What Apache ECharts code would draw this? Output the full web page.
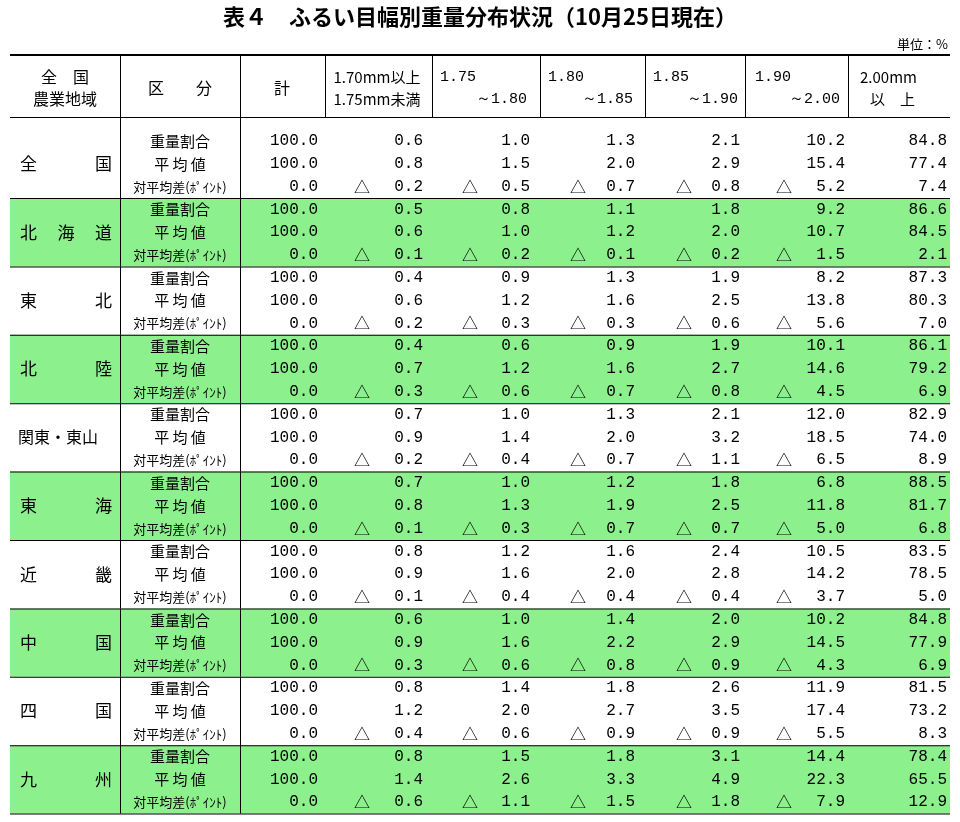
<!DOCTYPE html>
<html><head><meta charset="utf-8">
<script src="https://cdn.jsdelivr.net/npm/echarts@6/dist/echarts.min.js"></script>
<style>html,body{margin:0;padding:0;background:#fff}#c{width:960px;height:822px}</style>
</head><body><div id="c"></div>
<script>
const title='表４　ふるい目幅別重量分布状況（10月25日現在）';
const unit='単位：%';
const regions=['全国','北海道','東北','北陸','関東・東山','東海','近畿','中国','四国','九州'];
const rowLabels=['重量割合','平 均 値','対平均差(ﾎﾟｲﾝﾄ)'];
const share=[
[100.0,0.6,1.0,1.3,2.1,10.2,84.8],[100.0,0.5,0.8,1.1,1.8,9.2,86.6],[100.0,0.4,0.9,1.3,1.9,8.2,87.3],
[100.0,0.4,0.6,0.9,1.9,10.1,86.1],[100.0,0.7,1.0,1.3,2.1,12.0,82.9],[100.0,0.7,1.0,1.2,1.8,6.8,88.5],
[100.0,0.8,1.2,1.6,2.4,10.5,83.5],[100.0,0.6,1.0,1.4,2.0,10.2,84.8],[100.0,0.8,1.4,1.8,2.6,11.9,81.5],
[100.0,0.8,1.5,1.8,3.1,14.4,78.4]];
const avg=[
[100.0,0.8,1.5,2.0,2.9,15.4,77.4],[100.0,0.6,1.0,1.2,2.0,10.7,84.5],[100.0,0.6,1.2,1.6,2.5,13.8,80.3],
[100.0,0.7,1.2,1.6,2.7,14.6,79.2],[100.0,0.9,1.4,2.0,3.2,18.5,74.0],[100.0,0.8,1.3,1.9,2.5,11.8,81.7],
[100.0,0.9,1.6,2.0,2.8,14.2,78.5],[100.0,0.9,1.6,2.2,2.9,14.5,77.9],[100.0,1.2,2.0,2.7,3.5,17.4,73.2],
[100.0,1.4,2.6,3.3,4.9,22.3,65.5]];
const diff=[
[0.0,-0.2,-0.5,-0.7,-0.8,-5.2,7.4],[0.0,-0.1,-0.2,-0.1,-0.2,-1.5,2.1],[0.0,-0.2,-0.3,-0.3,-0.6,-5.6,7.0],
[0.0,-0.3,-0.6,-0.7,-0.8,-4.5,6.9],[0.0,-0.2,-0.4,-0.7,-1.1,-6.5,8.9],[0.0,-0.1,-0.3,-0.7,-0.7,-5.0,6.8],
[0.0,-0.1,-0.4,-0.4,-0.4,-3.7,5.0],[0.0,-0.3,-0.6,-0.8,-0.9,-4.3,6.9],[0.0,-0.4,-0.6,-0.9,-0.9,-5.5,8.3],
[0.0,-0.6,-1.1,-1.5,-1.8,-7.9,12.9]];
const headTop=['全　国','区　　分','計','1.70mm以上','1.75','1.80','1.85','1.90','2.00mm'];
const headBot=['農業地域','','','1.75mm未満','～1.80','～1.85','～1.90','～2.00','以　上'];

// layout
const colRight=[318,423,530,635,740,845,947];
const triX=[null,362,470,578,684,784,null];
const vLines=[120,240,325,432,540,645,745,848];
const JP='"Noto Sans CJK JP", sans-serif';
const NUM='"Liberation Mono", monospace';

const cells=[];
[share,avg,diff].forEach((arr,k)=>arr.forEach((r,g)=>r.forEach((v,c)=>cells.push([c,g*3+k,v]))));
const bands=regions.map((_,g)=>[g]).filter(d=>d[0]%2===1);
const bounds=regions.map((_,g)=>[g]);

const chart=echarts.init(document.getElementById('c'));
const graphics=[
 {type:'text',left:'center',top:6,style:{text:title,font:'bold 22px '+JP,fill:'#000'}},
 {type:'text',right:12,top:38,style:{text:unit,font:'13px '+JP,fill:'#000'}},
 {type:'rect',shape:{x:10,y:54,width:940,height:2},style:{fill:'#000'}},
 {type:'rect',shape:{x:10,y:117,width:940,height:1},style:{fill:'#000'}},
];
vLines.forEach(x=>graphics.push({type:'rect',shape:{x:x,y:55,width:1,height:63},style:{fill:'#000'}}));
const hx=[65,180,282,377,440,548,653,755,860];
headTop.forEach((t,i)=>{
 if(i===2||i===1){graphics.push({type:'text',x:hx[i],y:88,style:{text:t,font:'16px '+JP,align:'center',verticalAlign:'middle',fill:'#000'}});return;}
 const ax= (i===3||i===0)?'center':'left';
 graphics.push({type:'text',x:i===3?377:hx[i],y:77,style:{text:t,font:(i===0?'16px ':'15px ')+(i>=4&&i<8?NUM:JP),align:ax,verticalAlign:'middle',fill:'#000'}});
 const b=headBot[i]; if(!b)return;
 let bx=hx[i],al='left';
 if(i===0)al='center'; else if(i===3){bx=377;al='center';} else if(i<8){bx=[0,0,0,0,527,633,738,840][i];al='right';} else bx=870;
 graphics.push({type:'text',x:bx,y:99,style:{text:b,font:(i===0?'16px ':'15px ')+(i>=4&&i<8?NUM:JP),align:al,verticalAlign:'middle',fill:'#000'}});
});

function yOf(api,r){return api.coord([0,r])[1];}
chart.setOption({
 animation:false,
 graphic:graphics,
 grid:{left:0,right:0,top:0,bottom:0},
 xAxis:{type:'value',min:0,max:960,show:false},
 yAxis:{type:'value',inverse:true,min:-141/22.8,max:(822-141)/22.8,show:false},
 series:[
  {type:'custom',data:bands,renderItem:(p,api)=>{const g=api.value(0);const y0=yOf(api,g*3-0.5),y1=yOf(api,g*3+2.5);
    return {type:'rect',shape:{x:10,y:y0,width:940,height:y1-y0},style:{fill:'#8cf08c'}};}},
  {type:'custom',data:bounds,renderItem:(p,api)=>{const g=api.value(0);const y0=g===0?118:yOf(api,g*3-0.5),y1=yOf(api,g*3+2.5);
    const ch=[{type:'rect',shape:{x:10,y:y1,width:940,height:1},style:{fill:'#000'}},
      {type:'rect',shape:{x:120,y:y0,width:1,height:y1-y0},style:{fill:'#000'}},
      {type:'rect',shape:{x:240,y:y0,width:1,height:y1-y0},style:{fill:'#000'}}];
    const yc=yOf(api,g*3+1);
    if(regions[g].length>=5){
      ch.push({type:'text',x:18,y:yc,style:{text:regions[g],font:'16px '+JP,align:'left',verticalAlign:'middle',fill:'#000'}});
    } else {
      const name=regions[g].split('');const n=name.length;
      name.forEach((c,i)=>{const x=20+92*i/(n-1);
        ch.push({type:'text',x:x,y:yc,style:{text:c,font:'17px '+JP,align:i===0?'left':(i===n-1?'right':'center'),verticalAlign:'middle',fill:'#000'}});});
    }
    rowLabels.forEach((l,k)=>ch.push({type:'text',x:180,y:yOf(api,g*3+k),style:{text:l,font:(k===2?'13px ':'15px ')+JP,align:'center',verticalAlign:'middle',fill:'#000'}}));
    return {type:'group',children:ch};}},
  {type:'custom',data:cells,renderItem:(p,api)=>{const c=api.value(0),r=api.value(1),v=api.value(2);const y=yOf(api,r);
    const ch=[{type:'text',x:colRight[c],y:y,style:{text:Math.abs(v).toFixed(1),font:'16px '+NUM,align:'right',verticalAlign:'middle',fill:'#000'}}];
    if(v<0&&triX[c]!=null)ch.push({type:'text',x:triX[c],y:y,style:{text:'△',font:'16px '+JP,align:'center',verticalAlign:'middle',fill:'#000'}});
    return {type:'group',children:ch};}}
 ]
});
</script></body></html>
